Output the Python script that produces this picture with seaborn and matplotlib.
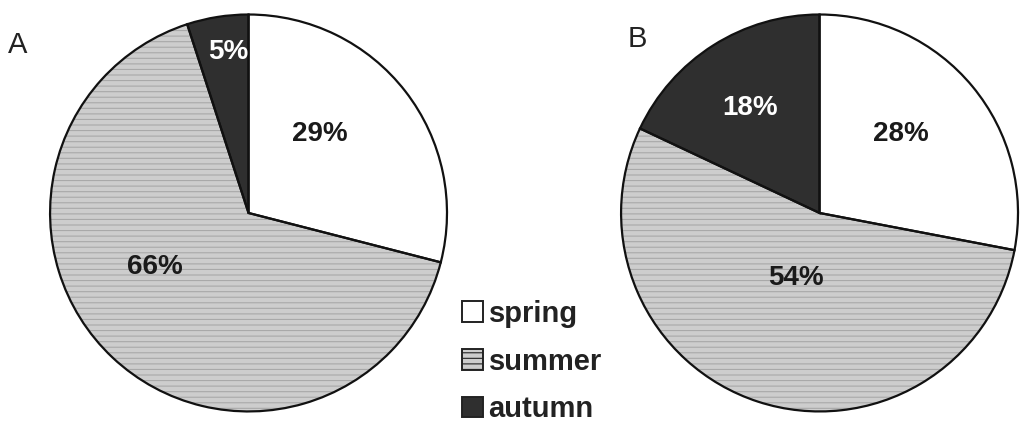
import matplotlib
matplotlib.use("Agg")
import matplotlib.pyplot as plt
import matplotlib.patches as mpatches
import seaborn as sns

# Seasonal share, panels A and B
seasons = ["spring", "summer", "autumn"]
share_a = [29, 66, 5]
share_b = [28, 54, 18]
panels = ["A", "B"]

sns.set_style("white")
plt.rcParams['font.family'] = ['Liberation Sans', 'DejaVu Sans']
plt.rcParams['hatch.linewidth'] = 0.8

fill_colors = ["#ffffff", "#cdcdcd", "#2f2f2f"]
hatches = [None, "---", None]
text_colors = ["#1a1a1a", "#1a1a1a", "#ffffff"]

# label positions (in pie radius units), tuned by eye
label_pos_a = [(0.36, 0.40), (-0.47, -0.27), (-0.10, 0.81)]
label_pos_b = [(0.41, 0.40), (-0.12, -0.33), (-0.35, 0.53)]

fig = plt.figure(figsize=(10.27, 4.32), dpi=100)
ax_a = fig.add_axes([0.046, 0.043, 0.392, 0.928])
ax_b = fig.add_axes([0.602, 0.043, 0.392, 0.928])

for ax, vals, pos in [(ax_a, share_a, label_pos_a), (ax_b, share_b, label_pos_b)]:
    wedges, _ = ax.pie(vals, startangle=90, counterclock=False,
                       colors=fill_colors,
                       wedgeprops=dict(linewidth=0, edgecolor="#a9a9a9"))
    for w, h in zip(wedges, hatches):
        if h:
            w.set_hatch(h)
    # outlines on top
    ax.pie(vals, startangle=90, counterclock=False,
           wedgeprops=dict(facecolor="none", edgecolor="#111111", linewidth=1.6))
    for v, (x, y), c in zip(vals, pos, text_colors):
        ax.text(x, y, f"{v}%", ha="center", va="center", fontsize=20,
                color=c, fontweight="bold")
    ax.set_aspect("equal")
    ax.set_xlim(-1.01, 1.01)
    ax.set_ylim(-1.01, 1.01)
    ax.axis("off")

fig.text(0.017, 0.895, panels[0], fontsize=21, ha="center", va="center", color="#222222")
fig.text(0.621, 0.91, panels[1], fontsize=21, ha="center", va="center", color="#222222")

handles = [mpatches.Patch(facecolor=fc, edgecolor="#222222", hatch=h, linewidth=1.4)
           for fc, h in zip(fill_colors, hatches)]
leg = fig.legend(handles, seasons, loc="upper left", bbox_to_anchor=(0.436, 0.34),
                 frameon=False, fontsize=21, handlelength=0.7, handleheight=0.7,
                 handletextpad=0.2, labelspacing=0.68, borderpad=0)
for t in leg.get_texts():
    t.set_fontweight("bold")
    t.set_color("#222222")

fig.savefig("out.png", dpi=100, facecolor="white")
